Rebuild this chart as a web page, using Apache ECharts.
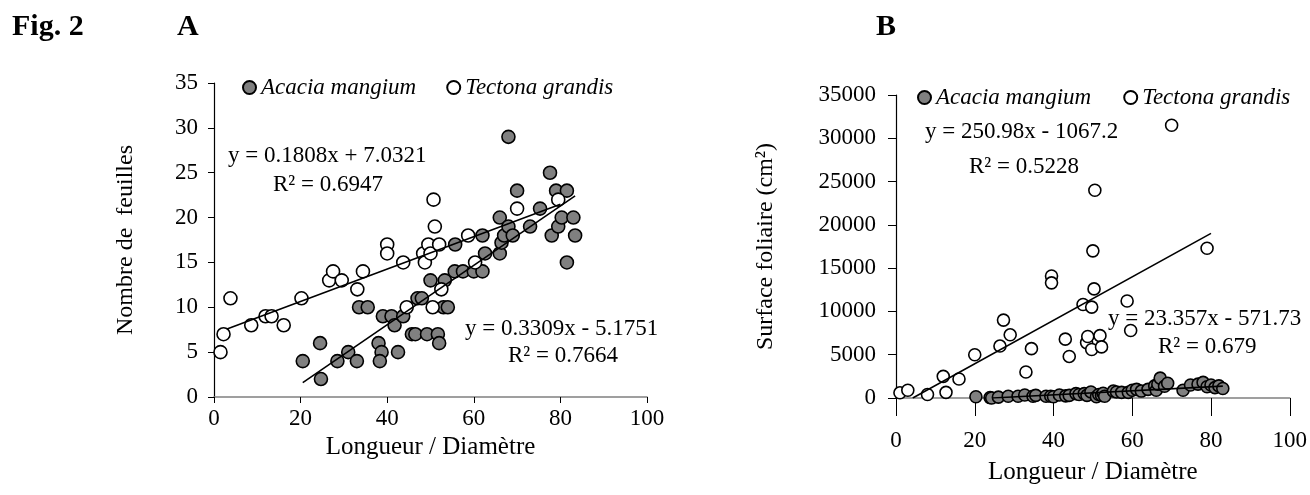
<!DOCTYPE html>
<html>
<head>
<meta charset="utf-8">
<script src="https://cdn.jsdelivr.net/npm/echarts@6/dist/echarts.min.js"></script>
<style>
  html, body { margin: 0; padding: 0; background: #fff; }
  #main { width: 1310px; height: 495px; }
</style>
</head>
<body>
<div id="main"></div>
<script>
// donnees
// A : nombre de feuilles
var acaciaLeaves = [
    [20.5,4],[24.5,6],[24.7,2],[28.5,4],[31,5],[33,4],[33.5,10],[35.5,10],[38,6],[38.7,5],
    [38.3,4],[39,9],[41,9],[41.7,8],[42.5,5],[43.7,9],[45.7,7],[46.5,7],[47,11],[48,11],
    [49.2,7],[50,13],[51.7,7],[52,6],[53,10],[54,10],[53.3,13],[55.6,14],[55.7,17],[57.5,14],
    [60,14],[62,14],[62,18],[62.6,16],[66,16],[66.4,17.2],[67,18],[66,20],[68,19],[69,18],
    [68,29],[70,23],[73,19],[75.3,21],[77.6,25],[78,18],[79,23],[79.5,19],[80.3,20],[81.5,23],
    [81.5,15],[83,20],[83.4,18]
];
var tectonaLeaves = [
    [1.5,5],[2.2,7],[3.8,11],[8.6,8],[11.9,9],[13.3,9],[16.1,8],[20.2,11],[26.6,13],[27.5,14],
    [29.5,13],[33.1,12],[34.4,14],[40,17],[40,16],[43.7,15],[44.5,10],[48.3,16],[48.7,15],[49.5,17],
    [50,16],[50.5,10],[50.7,22],[51,19],[52,17],[52.5,12],[58.7,18],[60.3,15],[70,21],[79.5,22]
];
// B : surface foliaire
var acaciaArea = [
    [20.3,150],[23.9,50],[24.3,0],[26,100],[28.5,200],[31,200],[32.7,350],[34.8,200],[35.5,300],[38.1,200],
    [39.3,200],[40,150],[41.5,350],[43.1,250],[44,300],[45.7,500],[46.5,400],[47.8,500],[48.5,300],[49.5,700],
    [50.9,150],[51.5,400],[52.2,300],[52.6,550],[53,200],[55.2,800],[56,700],[57.3,650],[59,650],[60,900],
    [61.1,1000],[62.3,800],[64,1000],[65.7,1400],[66.1,900],[66.5,1600],[67.1,2300],[68.2,1350],[69,1700],[72.9,900],
    [74.8,1500],[76.7,1600],[78,1800],[79,1300],[80,1500],[81,1200],[82,1400],[83,1100]
];
var tectonaArea = [
    [1,600],[3,900],[8,400],[12,2500],[12.7,650],[16,2200],[20,5000],[26.4,6000],[27.3,9000],[29,7300],
    [33,3000],[34.4,5700],[39.5,14100],[39.5,13300],[43,6800],[44,4800],[47.5,10800],[48.4,6400],[48.7,7100],[49.7,10500],
    [49.7,5600],[50,17000],[50.3,12600],[50.5,24000],[51.8,7200],[52.2,5900],[58.7,11200],[59.6,7800],[70,31500],[79,17300]
];
// droites de regression : [pente, ordonnee, x debut, x fin]
var trendAcaciaLeaves = [0.3309, -5.1751, 20.5, 83.4];
var trendTectonaLeaves = [0.1808, 7.0321, 3, 80];
var trendAcaciaArea = [23.357, -571.73, 24.5, 83];
var trendTectonaArea = [250.98, -1067.2, 4.25, 80];

var eqLeaves = ['y = 0.1808x + 7.0321', 'R² = 0.6947', 'y = 0.3309x - 5.1751', 'R² = 0.7664'];
var eqArea = ['y = 250.98x - 1067.2', 'R² = 0.5228', 'y = 23.357x - 571.73', 'R² = 0.679'];

var FONT = 'Liberation Serif';

function trend_pts(t){
    return [[t[2], t[0]*t[2]+t[1]], [t[3], t[0]*t[3]+t[1]]];
}

function scatter(name, data, idx, fill, size){
    return {
        name: name,
        type: 'scatter',
        xAxisIndex: idx,
        yAxisIndex: idx,
        data: data,
        symbolSize: size,
        itemStyle: { color: fill, borderColor: '#000', borderWidth: 1.6, opacity: 1 },
        z: 3
    };
}

function trend(t, idx){
    return {
        type: 'line',
        xAxisIndex: idx,
        yAxisIndex: idx,
        data: trend_pts(t),
        showSymbol: false,
        symbol: 'none',
        lineStyle: { color: '#000', width: 1.6 },
        silent: true,
        z: 5
    };
}

function txt(s, x, y, opt){
    var st = { text: s, fill: '#000', font: (opt && opt.font) || ('23px "' + FONT + '"'), textVerticalAlign: 'middle' };
    return { type: 'text', left: x, top: y - 13, style: st, z: 10 };
}

function xaxis(idx, tickLen, labMargin, nameGap){
    return {
        gridIndex: idx, type: 'value', min: 0, max: 100, interval: 20,
        name: 'Longueur / Diamètre', nameLocation: 'middle', nameGap: nameGap,
        nameTextStyle: { fontFamily: FONT, fontSize: 25, color: '#000' },
        axisLine: { lineStyle: { color: '#808080', width: 1.6 } },
        axisTick: { length: tickLen, lineStyle: { color: '#000', width: 1 } },
        axisLabel: { fontFamily: FONT, fontSize: 23, color: '#000', margin: labMargin },
        splitLine: { show: false }
    };
}

function yaxis(idx, max, interval, name, nameGap, tickLen, labMargin){
    return {
        gridIndex: idx, type: 'value', min: 0, max: max, interval: interval,
        name: name, nameLocation: 'middle', nameRotate: 90, nameGap: nameGap,
        nameTextStyle: { fontFamily: FONT, fontSize: 24, color: '#000' },
        axisLine: { show: true, lineStyle: { color: '#000', width: 1.2 } },
        axisTick: { show: true, length: tickLen, lineStyle: { color: '#000', width: 1 } },
        axisLabel: { fontFamily: FONT, fontSize: 23, color: '#000', margin: labMargin,
                     formatter: function (v) { return String(v); } },
        splitLine: { show: false }
    };
}

var chart = echarts.init(document.getElementById('main'), null, { renderer: 'canvas' });

function legend_at(left, top, gap){
    return {
        left: left, top: top, padding: 0,
        icon: 'circle', itemWidth: 13, itemHeight: 13, itemGap: gap, orient: 'horizontal',
        textStyle: { fontFamily: FONT, fontSize: 23, fontStyle: 'italic', color: '#000' },
        data: ['Acacia mangium', 'Tectona grandis']
    };
}

var option = {
    animation: false,
    backgroundColor: '#fff',
    grid: [
        { left: 214, right: 663, top: 83, bottom: 98 },
        { left: 896, right: 20, top: 95, bottom: 97 }
    ],
    legend: [
        legend_at(242, 76, 30),
        legend_at(917, 86, 32)
    ],
    xAxis: [
        xaxis(0, 6, 10, 37),
        xaxis(1, 18, 31, 62)
    ],
    yAxis: [
        yaxis(0, 35, 5, 'Nombre de  feuilles', 76, 6, 16),
        yaxis(1, 35000, 5000, 'Surface foliaire (cm²)', 118, 8, 20)
    ],
    series: [
        scatter('Acacia mangium', acaciaLeaves, 0, '#808080', 13),
        scatter('Tectona grandis', tectonaLeaves, 0, '#ffffff', 13),
        trend(trendAcaciaLeaves, 0),
        trend(trendTectonaLeaves, 0),
        scatter('Acacia mangium', acaciaArea, 1, '#808080', 12),
        scatter('Tectona grandis', tectonaArea, 1, '#ffffff', 12),
        trend(trendAcaciaArea, 1),
        trend(trendTectonaArea, 1)
    ],
    graphic: [
        txt('Fig. 2', 12, 25, { font: 'bold 30px "' + FONT + '"' }),
        txt('A', 177, 25, { font: 'bold 30px "' + FONT + '"' }),
        txt('B', 876, 25, { font: 'bold 30px "' + FONT + '"' }),
        txt(eqLeaves[0], 228, 157),
        txt(eqLeaves[1], 273, 186),
        txt(eqLeaves[2], 465, 330),
        txt(eqLeaves[3], 508, 357),
        txt(eqArea[0], 925, 133),
        txt(eqArea[1], 969, 168),
        txt(eqArea[2], 1108, 320),
        txt(eqArea[3], 1158, 348)
    ]
};

chart.setOption(option);
</script>
</body>
</html>
